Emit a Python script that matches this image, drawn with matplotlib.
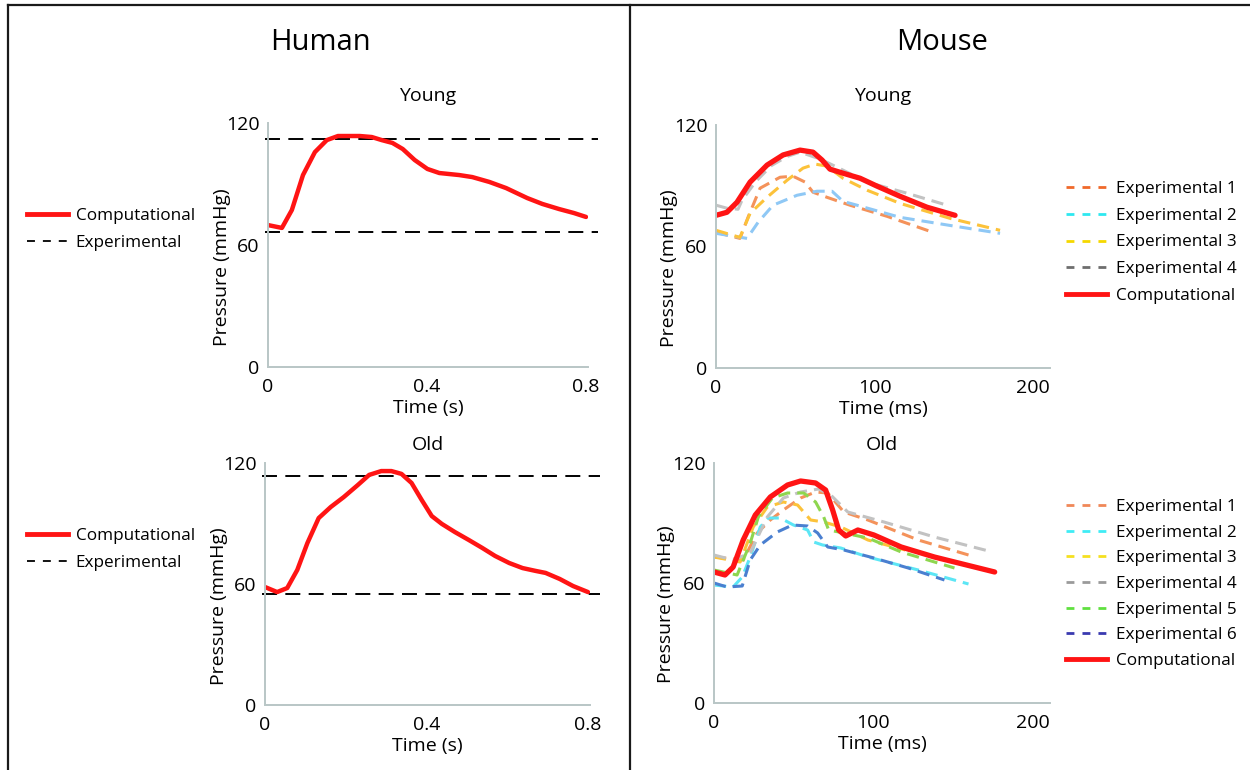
import matplotlib
matplotlib.use("Agg")
import matplotlib.pyplot as plt
from matplotlib.lines import Line2D

plt.rcParams['font.family'] = ['Open Sans', 'DejaVu Sans']

# human aortic pressure, computational (time in s, pressure in mmHg)
human_young_t = [0, 0.035, 0.060, 0.088, 0.118, 0.148, 0.176, 0.231, 0.261, 0.286, 0.313,
                 0.339, 0.369, 0.401, 0.431, 0.481, 0.514, 0.557, 0.599, 0.652, 0.690,
                 0.732, 0.770, 0.8]
human_young_p = [69.8, 68.4, 77.2, 94.4, 105.7, 111.6, 113.6, 113.6, 113.1, 111.6, 110.2,
                 107.2, 101.8, 97.4, 95.4, 94.4, 93.4, 91.0, 88.0, 83.1, 80.2,
                 77.7, 75.7, 73.8]
human_young_exp = [112.1, 66.4]  # measured systolic / diastolic

human_old_t = [0, 0.030, 0.055, 0.080, 0.105, 0.133, 0.163, 0.195, 0.230, 0.258, 0.288,
               0.313, 0.338, 0.363, 0.388, 0.413, 0.438, 0.470, 0.505, 0.538, 0.570,
               0.605, 0.638, 0.670, 0.695, 0.730, 0.763, 0.8]
human_old_p = [58.5, 56.0, 58.0, 67.0, 80.3, 92.7, 98.2, 103.1, 109.1, 114.1, 116.0,
               116.0, 114.6, 110.1, 101.7, 93.7, 89.8, 85.8, 81.8, 77.9, 73.9,
               70.4, 67.9, 66.5, 65.5, 62.5, 59.0, 56.0]
human_old_exp = [113.6, 55.0]

# mouse young (time in ms)
my_comp_t = [0, 6.9, 13.2, 21.5, 32.2, 42.3, 53.0, 61.2, 66.9, 71.9, 80.1, 90.9, 101.6, 116.1, 133.1, 150.8]
my_comp_p = [75.4, 76.9, 81.8, 91.8, 100.2, 105.2, 107.6, 106.6, 102.7, 98.2, 96.2, 93.7, 89.8, 84.8, 79.4, 75.4]
my_exp1_t = [0, 15.1, 20.2, 27.8, 40.4, 48.6, 56.2, 61.2, 70.0, 84.5, 107.9, 135.0]
my_exp1_p = [67.0, 64.0, 74.4, 88.8, 94.2, 94.7, 91.8, 86.8, 84.3, 80.4, 74.9, 67.5]
my_exp2_t = [0, 19.6, 26.5, 36.0, 51.1, 63.7, 73.2, 80.1, 88.9, 116.1, 147.6, 179.2]
my_exp2_p = [66.5, 64.0, 71.9, 80.4, 85.3, 87.3, 87.3, 82.3, 80.4, 74.4, 70.4, 66.5]
my_exp3_t = [0, 15.1, 21.5, 32.2, 44.8, 54.9, 62.5, 70.0, 80.1, 95.3, 116.1, 147.6, 179.2]
my_exp3_p = [68.0, 64.5, 76.4, 84.3, 92.7, 98.7, 100.7, 99.7, 93.7, 87.8, 81.3, 73.9, 68.0]
my_exp4_t = [0, 6.9, 13.9, 16.4, 25.0, 35.0, 45.0, 53.0, 65.6, 76.3, 95.3, 120.5, 145.7]
my_exp4_p = [80.4, 78.9, 78.4, 82.8, 92.0, 100.0, 104.5, 106.6, 103.2, 99.2, 91.8, 86.3, 80.4]

# mouse old (time in ms)
mo_comp_t = [0, 6.9, 12.0, 18.3, 25.9, 35.3, 46.1, 54.3, 63.7, 70.0, 74.4, 78.2, 82.6, 90.2, 100.3, 117.4, 138.2, 176.0]
mo_comp_p = [65.5, 64.0, 68.0, 81.5, 94.0, 103.0, 109.0, 111.0, 110.0, 106.5, 96.5, 86.5, 83.5, 86.5, 84.0, 78.0, 73.0, 65.5]
mo_exp1_t = [0, 18.3, 27.1, 35.3, 43.5, 54.3, 63.7, 71.3, 81.4, 96.5, 128.1, 159.6]
mo_exp1_p = [73.0, 71.5, 85.0, 91.5, 96.5, 102.5, 105.5, 105.0, 95.5, 91.5, 81.5, 74.0]
mo_exp2_t = [0, 12.0, 17.7, 22.7, 29.0, 34.1, 41.6, 49.8, 58.7, 62.5, 68.1, 79.5, 96.5, 128.1, 159.6]
mo_exp2_p = [59.0, 58.0, 63.0, 73.0, 88.0, 92.5, 92.5, 89.0, 86.5, 80.5, 79.0, 77.5, 73.0, 66.5, 59.5]
mo_exp3_t = [0, 16.4, 24.6, 33.4, 43.5, 52.4, 60.6, 68.8, 79.5, 96.5, 120.0]
mo_exp3_p = [73.0, 70.5, 88.0, 98.0, 100.5, 99.0, 91.5, 90.5, 88.0, 81.5, 76.5]
mo_exp4_t = [0, 12.0, 22.7, 33.4, 43.5, 54.3, 65.6, 73.2, 83.9, 106.6, 138.2, 172.2]
mo_exp4_p = [74.0, 71.5, 75.0, 93.0, 102.5, 105.5, 107.0, 104.0, 95.5, 90.5, 83.0, 76.0]
mo_exp5_t = [0, 14.5, 22.7, 27.8, 36.6, 46.1, 56.2, 63.7, 68.8, 71.9, 81.4, 96.5, 117.4, 150.8]
mo_exp5_p = [66.5, 64.0, 80.0, 93.0, 102.5, 105.0, 105.0, 100.5, 93.0, 86.5, 85.0, 82.5, 75.5, 67.5]
mo_exp6_t = [0, 8.2, 17.7, 22.7, 29.0, 39.7, 49.2, 58.7, 65.0, 71.3, 81.4, 100.3, 121.8, 144.5]
mo_exp6_p = [60.0, 58.0, 58.5, 71.5, 79.0, 85.5, 89.0, 88.5, 85.0, 78.0, 76.5, 72.5, 67.5, 61.5]

exp_labels = ['Experimental 1', 'Experimental 2', 'Experimental 3',
              'Experimental 4', 'Experimental 5', 'Experimental 6']

RED = '#ff1414'
SPINE = '#b9c6c6'
line_cols = ['#f4925a', '#8fc8f5', '#fcc23a', '#c2c2c2']
line_cols_old = ['#f4925a', '#5ce6f5', '#fcc23a', '#c2c2c2', '#8ed64f', '#4a7fd0']
leg_cols_young = ['#f0692a', '#2ee8f0', '#f5d800', '#6e6e6e']
leg_cols_old = ['#f08858', '#40ecf5', '#f5e020', '#9a9a9a', '#60e040', '#3a3ab0']

W, H = 1250, 770
fig = plt.figure(figsize=(12.5, 7.7), dpi=100)


def box(l, t, r, b):
    return [l / W, 1 - b / H, (r - l) / W, (b - t) / H]


def style_axes(ax, title, xlabel, ylx, tpad):
    for s in ['top', 'right']:
        ax.spines[s].set_visible(False)
    for s in ['left', 'bottom']:
        ax.spines[s].set_color(SPINE)
        ax.spines[s].set_linewidth(1.4)
    ax.tick_params(length=0, labelsize=14, pad=6)
    ax.tick_params(axis='x', pad=8)
    ax.set_ylim(0, 120)
    ax.set_yticks([0, 60, 120])
    ax.set_title(title, fontsize=14, pad=tpad)
    ax.set_xlabel(xlabel, fontsize=14, labelpad=2)
    ax.set_ylabel('Pressure (mmHg)', fontsize=14)
    ax.yaxis.set_label_coords(ylx, 0.41)


# human panels
ax_hy = fig.add_axes(box(268, 123, 588, 367))
ax_ho = fig.add_axes(box(265, 463, 590, 705))
for ax, t, p, exp, title, tpad in [(ax_hy, human_young_t, human_young_p, human_young_exp, 'Young', 16),
                                   (ax_ho, human_old_t, human_old_p, human_old_exp, 'Old', 9)]:
    for v in exp:
        ax.axhline(v, xmin=-0.01, xmax=1.03, color='black', lw=1.4,
                   dashes=(7.7, 4.3), clip_on=False)
    ax.plot(t, p, color=RED, lw=3.2, solid_capstyle='round', solid_joinstyle='round')
    ax.set_xlim(0, 0.805)
    ax.set_xticks([0, 0.4, 0.8])
    ax.set_xticklabels(['0', '0.4', '0.8'])
    style_axes(ax, title, 'Time (s)', -0.115, tpad)

# mouse panels
ax_my = fig.add_axes(box(716, 125, 1050, 368))
ax_mo = fig.add_axes(box(714, 463, 1050, 703))
young_exp = [(my_exp1_t, my_exp1_p), (my_exp2_t, my_exp2_p),
             (my_exp3_t, my_exp3_p), (my_exp4_t, my_exp4_p)]
old_exp = [(mo_exp1_t, mo_exp1_p), (mo_exp2_t, mo_exp2_p), (mo_exp3_t, mo_exp3_p),
           (mo_exp4_t, mo_exp4_p), (mo_exp5_t, mo_exp5_p), (mo_exp6_t, mo_exp6_p)]

for (t, p), c in zip(young_exp, line_cols):
    ax_my.plot(t, p, color=c, lw=2.2, dashes=(4, 2.3), dash_joinstyle='round')
ax_my.plot(my_comp_t, my_comp_p, color=RED, lw=3.8,
           solid_capstyle='round', solid_joinstyle='round')

for (t, p), c in zip(old_exp, line_cols_old):
    ax_mo.plot(t, p, color=c, lw=2.2, dashes=(4, 2.3), dash_joinstyle='round')
ax_mo.plot(mo_comp_t, mo_comp_p, color=RED, lw=3.8,
           solid_capstyle='round', solid_joinstyle='round')

for ax, title, tpad in [(ax_my, 'Young', 17), (ax_mo, 'Old', 9)]:
    ax.set_xlim(0, 210.7)
    ax.set_xticks([0, 100, 200])
    style_axes(ax, title, 'Time (ms)', -0.115, tpad)

# legends
def human_legend(yc):
    handles = [Line2D([], [], color=RED, lw=3.5),
               Line2D([], [], color='black', lw=1.3, dashes=(4.4, 4.4))]
    fig.legend(handles, ['Computational', 'Experimental'], loc='center left',
               bbox_to_anchor=(27 / W, 1 - yc / H), frameon=False, fontsize=12.3,
               handlelength=2.4, handletextpad=0.45, labelspacing=0.62, borderpad=0,
               borderaxespad=0)


def mouse_legend(cols, yc, spacing):
    handles = [Line2D([], [], color=c, lw=2, dashes=(2.85, 2.9)) for c in cols]
    handles.append(Line2D([], [], color=RED, lw=3.5))
    labels = exp_labels[:len(cols)] + ['Computational']
    fig.legend(handles, labels, loc='center left',
               bbox_to_anchor=(1066 / W, 1 - yc / H), frameon=False, fontsize=12.3,
               handlelength=2.4, handletextpad=0.5, labelspacing=spacing, borderpad=0,
               borderaxespad=0)


human_legend(229.5)
human_legend(549.5)
mouse_legend(leg_cols_young, 242.5, 0.62)
mouse_legend(leg_cols_old, 584, 0.57)

# headings
fig.text(320 / W, 1 - 43 / H, 'Human', fontsize=21, ha='center', va='center')
fig.text(942 / W, 1 - 43 / H, 'Mouse', fontsize=21, ha='center', va='center')

# frame and divider
frame_kw = dict(color='#1a1a1a', lw=1.6, transform=fig.transFigure)
fig.add_artist(Line2D([8 / W, 1], [1 - 5 / H, 1 - 5 / H], **frame_kw))
fig.add_artist(Line2D([8 / W, 8 / W], [0, 1 - 5 / H], **frame_kw))
fig.add_artist(Line2D([630 / W, 630 / W], [0, 1 - 5 / H], **frame_kw))

fig.savefig('out.png', dpi=100, facecolor='white')
